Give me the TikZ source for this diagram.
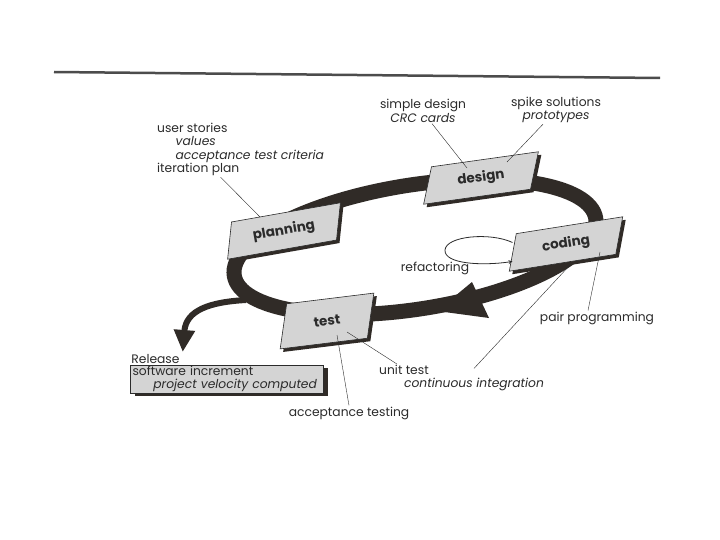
\documentclass[tikz,border=0pt]{standalone}
\usepackage{fontspec}
\setmainfont{Poppins}
\usepackage{tikz}
\usetikzlibrary{shapes.geometric, arrows, arrows.meta, positioning, shadows}
\definecolor{ink}{HTML}{2B2B2B}
\definecolor{loopdark}{HTML}{302B27}
\definecolor{cardgrey}{HTML}{D4D4D4}
\tikzset{
    card/.style={trapezium, trapezium left angle=66, trapezium right angle=114, trapezium stretches=true, minimum width=121pt, minimum height=36pt, inner sep=0pt, draw=ink, line width=0.6pt, fill=cardgrey, drop shadow={fill=loopdark, opacity=1, shadow xshift=3pt, shadow yshift=-3pt}, font=\fontsize{13.5}{15}\selectfont\bfseries, text=ink},
    note/.style={align=left, inner sep=1pt, font=\fontsize{12.3}{13.4}\selectfont, text=ink},
    releasebox/.style={rectangle, text width=189pt, minimum height=28pt, inner xsep=2pt, inner ysep=1pt, align=left, draw=ink, line width=0.6pt, fill=cardgrey, drop shadow={fill=loopdark, opacity=1, shadow xshift=4pt, shadow yshift=-3pt}, font=\fontsize{12.3}{13.6}\selectfont, text=ink},
    leader/.style={draw=ink, line width=0.4pt},
    arrow/.style={draw=ink, line width=0.8pt, ->, >=stealth},
    band/.style={draw=loopdark, line width=15pt},
    releasearrow/.style={draw=loopdark, line width=6pt, -{Triangle[width=20pt, length=22pt]}}
}

\begin{document}
\begin{tikzpicture}[x=1pt, y=-1pt, node distance=1pt]
    \useasboundingbox [fill=white] (0,0) rectangle (720,540);

    \draw [line width=2.5pt, draw=black!70] (54,72) -- (660,78);

    \draw [band, rotate around={9:(415,247)}] (415,247) ellipse [x radius=183, y radius=62];
    \fill [loopdark] (437,311) -- (472,282) -- (489,318) -- cycle;

    \node (relbox) [releasebox] at (227,379) {software increment\\\hspace*{1.7em}\textit{project velocity computed}};
    \node (release) [note, above=0pt of relbox.north west, anchor=south west] {Release};
    \coordinate (exit) at (246,300);
    \draw [releasearrow] (exit) .. controls (210,302) and (186,310) .. ([xshift=2pt, yshift=1pt]release.north east);

    \node (planning) [card, rotate=10] at (284,231) {planning};
    \node (design) [card, rotate=8] at (481,178) {design};
    \node (coding) [card, rotate=9] at (566,244) {coding};
    \node (test) [card, rotate=7, minimum width=100pt, minimum height=44pt] at (327,321) {test};

    \node (planlbl) [note, anchor=north west] at (156,122) {user stories\\\hspace*{1.5em}\textit{values}\\\hspace*{1.5em}\textit{acceptance test criteria}\\iteration plan};
    \node (dsnlbl) [note, align=center] at (423,111) {simple design\\\textit{CRC cards}};
    \node (spikelbl) [note, align=center] at (556,110) {spike solutions\\\textit{prototypes}};
    \node (refaclbl) [note] at (435,268) {refactoring};
    \node (pairlbl) [note] at (597,318) {pair programming};
    \node (unitlbl) [note] at (404,370) {unit test};
    \node (cilbl) [note] at (474,384) {\textit{continuous integration}};
    \node (acclbl) [note] at (349,413) {acceptance testing};

    \coordinate (planpin) at (260,217);
    \coordinate (dsnpin) at (467,168);
    \coordinate (spikepin) at (507,162);
    \coordinate (pairpin) at (600,252);
    \coordinate (cipin) at (570,265);
    \coordinate (unitpin) at (347,332);
    \coordinate (accpin) at (337,335);

    \draw [leader] ([xshift=-20pt]planlbl.south) -- (planpin);
    \draw [leader] ([xshift=9pt]dsnlbl.south) -- (dsnpin);
    \draw [leader] ([xshift=-13pt]spikelbl.south) -- (spikepin);
    \draw [leader] ([xshift=-9pt]pairlbl.north) -- (pairpin);
    \draw [leader] ([xshift=-7pt]unitlbl.north) -- (unitpin);
    \draw [leader] ([yshift=8pt]cilbl.north) -- (cipin);
    \draw [leader] (acclbl.north) -- (accpin);

    \draw [arrow] ([yshift=10pt]coding.west) .. controls (490,232) and (446,236) .. (445,250) .. controls (444,264) and (482,266) .. ([yshift=-9pt]coding.west);
\end{tikzpicture}
\end{document}
